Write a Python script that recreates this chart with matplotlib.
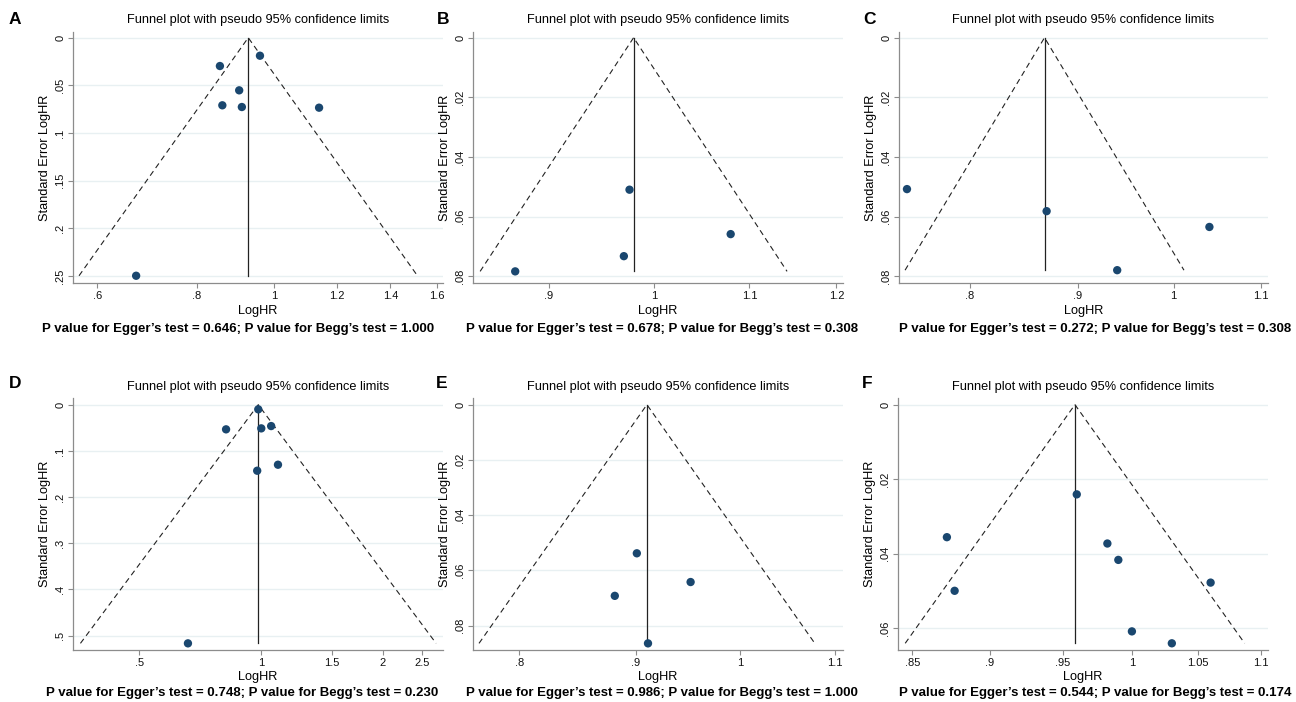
import numpy as np
import matplotlib
matplotlib.use("Agg")
import matplotlib.pyplot as plt
from matplotlib.ticker import NullLocator

plt.rcParams['font.family'] = ['Liberation Sans', 'DejaVu Sans']

# ---- data (HR, standard error of logHR) ----
hr_a = [0.960, 0.855, 0.904, 0.861, 0.911, 1.139, 0.671]
se_a = [0.0189, 0.0297, 0.0552, 0.0709, 0.0727, 0.0734, 0.2497]
pooled_a = 0.928

hr_b = [0.9755, 1.0795, 0.970, 0.870]
se_b = [0.0510, 0.0659, 0.0733, 0.0784]
pooled_b = 0.9795

hr_c = [0.7465, 0.870, 1.040, 0.940]
se_c = [0.0508, 0.0582, 0.0635, 0.0780]
pooled_c = 0.868

hr_d = [0.985, 0.820, 1.002, 1.060, 1.102, 0.979, 0.660]
se_d = [0.0100, 0.0533, 0.0512, 0.0462, 0.1299, 0.1429, 0.5166]
pooled_d = 0.985

hr_e = [0.9008, 0.951, 0.881, 0.911]
se_e = [0.0538, 0.0642, 0.0692, 0.0864]
pooled_e = 0.910

hr_f = [0.960, 0.872, 0.982, 0.990, 0.877, 1.060, 1.000, 1.030]
se_f = [0.0241, 0.0356, 0.0373, 0.0417, 0.0500, 0.0478, 0.0609, 0.0641]
pooled_f = 0.9587

letters = ['A', 'B', 'C', 'D', 'E', 'F']
egger_p = ['0.646', '0.678', '0.272', '0.748', '0.986', '0.544']
begg_p = ['1.000', '0.308', '0.308', '0.230', '1.000', '0.174']

xticks_a = [0.6, 0.8, 1, 1.2, 1.4, 1.6]
xticks_b = [0.9, 1, 1.1, 1.2]
xticks_c = [0.8, 0.9, 1, 1.1]
xticks_d = [0.5, 1, 1.5, 2, 2.5]
xticks_e = [0.8, 0.9, 1, 1.1]
xticks_f = [0.85, 0.9, 0.95, 1, 1.05, 1.1]

yticks_a = [0, 0.05, 0.1, 0.15, 0.2, 0.25]
yticks_b = [0, 0.02, 0.04, 0.06, 0.08]
yticks_c = [0, 0.02, 0.04, 0.06, 0.08]
yticks_d = [0, 0.1, 0.2, 0.3, 0.4, 0.5]
yticks_e = [0, 0.02, 0.04, 0.06, 0.08]
yticks_f = [0, 0.02, 0.04, 0.06]

panels = [
    (hr_a, se_a, pooled_a, xticks_a, yticks_a),
    (hr_b, se_b, pooled_b, xticks_b, yticks_b),
    (hr_c, se_c, pooled_c, xticks_c, yticks_c),
    (hr_d, se_d, pooled_d, xticks_d, yticks_d),
    (hr_e, se_e, pooled_e, xticks_e, yticks_e),
    (hr_f, se_f, pooled_f, xticks_f, yticks_f),
]

# ---- layout (pixels) ----
W, H = 1296, 702
# left, right, top, bottom of each plot region
boxes = [(73, 443, 31.7, 283), (473, 843, 31.7, 283), (899, 1268, 31.7, 283),
         (73, 443, 398.3, 650), (473, 843, 398.3, 650), (898, 1268, 398.3, 650)]
xlims = [(0.559, 1.63), (0.834, 1.208), (0.740, 1.109),
         (0.343, 2.82), (0.7636, 1.109), (0.841, 1.106)]
ylims = [(0.2573, -0.0063), (0.0823, -0.0020), (0.0823, -0.0020),
         (0.531, -0.0139), (0.0888, -0.0023), (0.0659, -0.0017)]
letter_pos = [(15, 20), (443, 20), (869, 20), (15, 383), (442, 383), (867, 383)]
title_x = [258, 658, 1083, 258, 658, 1083]
ptext_x = [238, 662, 1095, 242, 662, 1095]

navy = (26 / 255, 71 / 255, 111 / 255)
grid_c = (232 / 255, 240 / 255, 242 / 255)
axis_c = (0.55, 0.55, 0.55)


def fmt(v):
    s = ('%g' % v)
    if s.startswith('0.'):
        s = s[1:]
    return s


fig = plt.figure(figsize=(W / 100, H / 100), dpi=100)
fig.patch.set_facecolor('white')

for i, (hr, se, pooled, xt, yt) in enumerate(panels):
    l, r, t, b = boxes[i]
    ax = fig.add_axes([l / W, 1 - b / H, (r - l) / W, (b - t) / H])
    ax.set_xscale('log')
    ax.set_xlim(*xlims[i])
    ax.set_ylim(*ylims[i])

    for y in yt:
        ax.axhline(y, color=grid_c, lw=1.0, zorder=0)

    se_max = max(se)
    lo = pooled * np.exp(-1.96 * se_max)
    hi = pooled * np.exp(1.96 * se_max)
    ax.plot([lo, pooled, hi], [se_max, 0, se_max], color='#222222', lw=0.8,
            linestyle=(0, (5, 3.5)), zorder=2)
    ax.plot([pooled, pooled], [0, se_max], color='#222222', lw=0.9, zorder=2)
    ax.scatter(hr, se, s=36, color=navy, edgecolors='none', zorder=3)

    ax.set_xticks(xt)
    ax.set_xticklabels([fmt(v) for v in xt])
    ax.xaxis.set_minor_locator(NullLocator())
    ax.set_yticks(yt)
    ax.set_yticklabels([fmt(v) for v in yt], rotation=90, va='center')

    for side in ['top', 'right']:
        ax.spines[side].set_visible(False)
    for side in ['left', 'bottom']:
        ax.spines[side].set_color(axis_c)
        ax.spines[side].set_linewidth(0.9)
    ax.tick_params(axis='both', colors=axis_c, length=3.5, width=0.8,
                   labelcolor='#111111', labelsize=8, pad=2)

    ax.set_ylabel('Standard Error LogHR', fontsize=9.2, labelpad=3)

    top_row = i < 3
    fig.text(((l + r) / 2) / W, 1 - (310.7 if top_row else 677.0) / H, 'LogHR',
             fontsize=9.2, ha='center', va='center')
    fig.text(title_x[i] / W, 1 - (20 if top_row else 387) / H,
             'Funnel plot with pseudo 95% confidence limits',
             fontsize=9.2, ha='center', va='center')
    lx, ly = letter_pos[i]
    fig.text(lx / W, 1 - ly / H, letters[i], fontsize=12.5, fontweight='bold',
             ha='center', va='center')
    fig.text(ptext_x[i] / W, 1 - (329 if top_row else 693) / H,
             'P value for Egger\u2019s test = %s; P value for Begg\u2019s test = %s'
             % (egger_p[i], begg_p[i]),
             fontsize=9.5, fontweight='bold', ha='center', va='center')

fig.savefig('out.png', dpi=100)
